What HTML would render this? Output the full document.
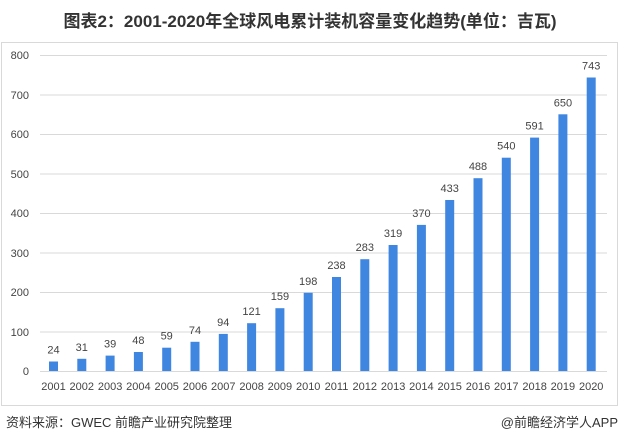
<!DOCTYPE html>
<html><head><meta charset="utf-8"><style>
body{margin:0;background:#fff;width:620px;height:443px;overflow:hidden;font-family:"Liberation Sans","Noto Sans CJK SC",sans-serif}
</style></head><body>
<svg width="620" height="443" xmlns="http://www.w3.org/2000/svg" font-family="Liberation Sans, Noto Sans CJK SC, sans-serif">
<text x="310" y="27" text-anchor="middle" font-size="17" font-weight="bold" fill="#333">图表2：2001-2020年全球风电累计装机容量变化趋势(单位：吉瓦)</text>
<rect x="1.5" y="42.5" width="616" height="363" fill="none" stroke="#d9d9d9"/>
<g stroke="#d9d9d9" stroke-width="1">
<line x1="40" x2="607" y1="55.5" y2="55.5"/><line x1="40" x2="607" y1="95" y2="95"/><line x1="40" x2="607" y1="134.5" y2="134.5"/><line x1="40" x2="607" y1="174" y2="174"/><line x1="40" x2="607" y1="213.5" y2="213.5"/><line x1="40" x2="607" y1="253" y2="253"/><line x1="40" x2="607" y1="292.5" y2="292.5"/><line x1="40" x2="607" y1="332" y2="332"/><line x1="40" x2="607" y1="371.5" y2="371.5"/>
</g>
<g font-size="11" fill="#444" text-anchor="end">
<text x="29" y="59">800</text><text x="29" y="99">700</text><text x="29" y="138">600</text><text x="29" y="178">500</text><text x="29" y="217">400</text><text x="29" y="257">300</text><text x="29" y="296">200</text><text x="29" y="336">100</text><text x="29" y="375">0</text>
</g>
<g fill="#3f86e0">
<rect x="49" y="361.5" width="9" height="9.5"/>
<rect x="77.3" y="358.8" width="9" height="12.2"/>
<rect x="105.6" y="355.6" width="9" height="15.4"/>
<rect x="133.9" y="352" width="9" height="19"/>
<rect x="162.2" y="347.7" width="9" height="23.3"/>
<rect x="190.5" y="341.8" width="9" height="29.2"/>
<rect x="218.8" y="333.9" width="9" height="37.1"/>
<rect x="247.1" y="323.2" width="9" height="47.8"/>
<rect x="275.4" y="308.2" width="9" height="62.8"/>
<rect x="303.7" y="292.8" width="9" height="78.2"/>
<rect x="332" y="277" width="9" height="94"/>
<rect x="360.3" y="259.2" width="9" height="111.8"/>
<rect x="388.6" y="245" width="9" height="126"/>
<rect x="416.9" y="224.9" width="9" height="146.1"/>
<rect x="445.2" y="200" width="9" height="171"/>
<rect x="473.5" y="178.2" width="9" height="192.8"/>
<rect x="501.8" y="157.7" width="9" height="213.3"/>
<rect x="530.1" y="137.6" width="9" height="233.4"/>
<rect x="558.4" y="114.3" width="9" height="256.7"/>
<rect x="586.7" y="77.5" width="9" height="293.5"/>
</g>
<g font-size="11" fill="#444" text-anchor="middle">
<text x="53.5" y="353.5">24</text>
<text x="81.8" y="350.8">31</text>
<text x="110.1" y="347.6">39</text>
<text x="138.4" y="344">48</text>
<text x="166.7" y="339.7">59</text>
<text x="195" y="333.8">74</text>
<text x="223.3" y="325.9">94</text>
<text x="251.6" y="315.2">121</text>
<text x="279.9" y="300.2">159</text>
<text x="308.2" y="284.8">198</text>
<text x="336.5" y="269">238</text>
<text x="364.8" y="251.2">283</text>
<text x="393.1" y="237">319</text>
<text x="421.4" y="216.9">370</text>
<text x="449.7" y="192">433</text>
<text x="478" y="170.2">488</text>
<text x="506.3" y="149.7">540</text>
<text x="534.6" y="129.6">591</text>
<text x="562.9" y="106.3">650</text>
<text x="591.2" y="69.5">743</text>
</g>
<g font-size="11" fill="#444" text-anchor="middle">
<text x="53.5" y="390">2001</text><text x="81.8" y="390">2002</text><text x="110.1" y="390">2003</text><text x="138.4" y="390">2004</text><text x="166.7" y="390">2005</text><text x="195" y="390">2006</text><text x="223.3" y="390">2007</text><text x="251.6" y="390">2008</text><text x="279.9" y="390">2009</text><text x="308.2" y="390">2010</text><text x="336.5" y="390">2011</text><text x="364.8" y="390">2012</text><text x="393.1" y="390">2013</text><text x="421.4" y="390">2014</text><text x="449.7" y="390">2015</text><text x="478" y="390">2016</text><text x="506.3" y="390">2017</text><text x="534.6" y="390">2018</text><text x="562.9" y="390">2019</text><text x="591.2" y="390">2020</text>
</g>
<text x="6" y="427" font-size="13" fill="#333">资料来源：GWEC 前瞻产业研究院整理</text>
<text x="618" y="427" font-size="13" fill="#333" text-anchor="end">@前瞻经济学人APP</text>
</svg>
</body></html>
